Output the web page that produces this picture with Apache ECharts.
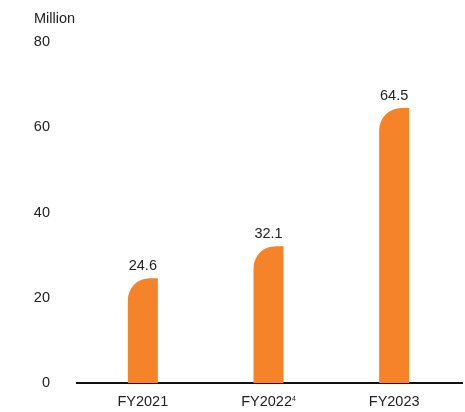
<!DOCTYPE html>
<html><head><meta charset="utf-8">
<script src="https://cdn.jsdelivr.net/npm/echarts@6/dist/echarts.min.js"></script>
<style>html,body{margin:0;padding:0;background:#fff}#c{width:465px;height:412px}</style>
</head><body><div id="c"></div>
<script>
var categories = ['FY2021', 'FY2022', 'FY2023'];
var superscripts = ['', '4', ''];
var values = [24.6, 32.1, 64.5];
var yTicks = [0, 20, 40, 60, 80];
var unitLabel = 'Million';

var chart = echarts.init(document.getElementById('c'));
var font = 'Liberation Sans, Arial, sans-serif';
chart.setOption({
  animation: false,
  grid: {left: 80, right: 8, top: 42, bottom: 29},
  graphic: [{type: 'line', shape: {x1: 76, y1: 383, x2: 463, y2: 383}, style: {stroke: '#111', lineWidth: 2}}],
  title: {text: unitLabel, left: 29, top: 6, textStyle: {fontFamily: font, fontSize: 14.5, fontWeight: 'normal', color: '#222'}},
  xAxis: {
    type: 'category', data: categories,
    axisLine: {show: false}, axisTick: {show: false},
    axisLabel: {margin: 11, fontFamily: font, fontSize: 14.5, color: '#222',
      formatter: function (v, i) { return superscripts[i] ? v + '{sup|' + superscripts[i] + '}' : v; },
      rich: {sup: {fontSize: 7, fontFamily: font, color: '#222', padding: [0, 0, 4, 0]}}
    }
  },
  yAxis: {
    type: 'value', min: yTicks[0], max: yTicks[yTicks.length - 1], interval: 20,
    splitLine: {show: false}, axisLine: {show: false}, axisTick: {show: false},
    axisLabel: {margin: 30, fontFamily: font, fontSize: 14.5, color: '#222'}
  },
  series: [{
    type: 'bar', data: values, barWidth: 30,
    itemStyle: {color: '#F4832A', borderRadius: [22, 0, 0, 0]},
    label: {show: true, position: 'top', distance: 5, fontFamily: font, fontSize: 14.5, color: '#222'}
  }]
});
</script></body></html>
